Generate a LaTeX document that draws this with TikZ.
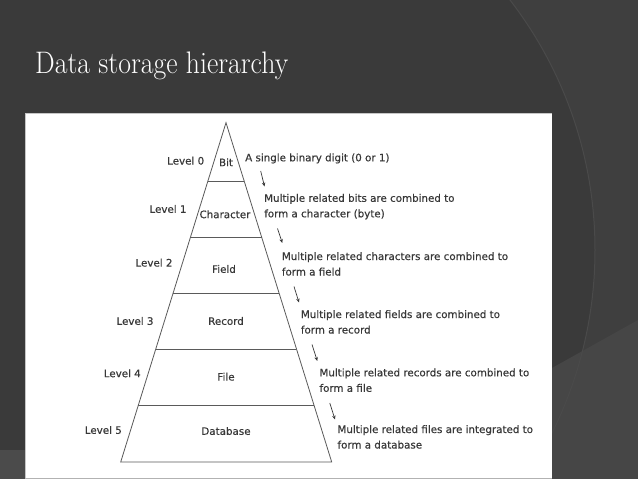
\documentclass[tikz,border=0pt]{standalone}
\usepackage{fontspec}
\usepackage{graphicx}
\newfontfamily\dv[FakeBold=0.4]{DejaVu Sans}
\usetikzlibrary{arrows.meta}
\definecolor{bgA}{HTML}{3A3A3A}
\definecolor{bgB}{HTML}{3F3F3F}
\definecolor{bgC}{HTML}{464646}
\definecolor{bgD}{HTML}{4B4B4B}
\definecolor{arcl}{HTML}{4A4A4A}
\definecolor{txt}{HTML}{383838}
\definecolor{pyr}{HTML}{5A5A5A}
\begin{document}
\begin{tikzpicture}[x=1pt,y=-1pt,
  lvl/.style={font=\dv\fontsize{10.3}{12}\selectfont, text=txt, inner sep=0pt},
  desc/.style={font=\dv\fontsize{10.3}{15.5}\selectfont, text=txt, align=left, inner sep=0pt, anchor=base west},
  arr/.style={draw=txt, line width=0.7pt, -{Stealth[length=4pt,width=3.4pt]}},
  pline/.style={draw=pyr, line width=0.8pt}]
\useasboundingbox (0,0) rectangle (638,479);
% background
\fill[bgA] (0,0) rectangle (638,479);
\fill[bgB, even odd rule] (0,0) rectangle (638,479) (185,250) circle (410);
\fill[bgC] (638,320) -- (638,479) -- (353,479) -- cycle;
\draw[arcl, line width=1pt] (185,250) circle (410);
\fill[bgD] (0,450) rectangle (25,479);
% title
\node[anchor=base west, inner sep=0pt, text=white, font=\fontsize{29}{29}\selectfont] (title) at (35,73.3) {\resizebox{253pt}{21.6pt}{Data storage hierarchy}};
% panel
\fill[white] (25,113) rectangle (552,478);
\draw[gray!45, line width=0.6pt] (25,478) -- (25,113) -- (552,113);
\draw[gray!60, line width=1pt] (25,478.5) -- (552,478.5);
% pyramid
\coordinate (apex) at (226,122.7);
\coordinate (bl) at (120.7,462);
\coordinate (br) at (331.7,462);
\draw[pline] (apex) -- (bl) -- (br) -- cycle;
\draw[pline] (207.7,181.7) -- (244.3,181.7);
\draw[pline] (190.4,237.5) -- (261.6,237.5);
\draw[pline] (173.2,293) -- (278.8,293);
\draw[pline] (155.8,349) -- (296.2,349);
\draw[pline] (138.2,405.7) -- (313.8,405.7);
% cell labels
\node[lvl] (bit) at (226,162.3) {Bit};
\node[lvl] (char) at (225,214.3) {Character};
\node[lvl] (field) at (224,269) {Field};
\node[lvl] (record) at (226,321) {Record};
\node[lvl] (file) at (226,376.7) {File};
\node[lvl] (db) at (226,431) {Database};
% level labels
\node[lvl] (l0) at (185.7,160.7) {Level 0};
\node[lvl] (l1) at (168,209) {Level 1};
\node[lvl] (l2) at (154,262.7) {Level 2};
\node[lvl] (l3) at (135,321) {Level 3};
\node[lvl] (l4) at (122.3,373.3) {Level 4};
\node[lvl] (l5) at (103.3,430) {Level 5};
% descriptions (base = baseline of last line)
\node[desc] (d0) at (245,161.3) {A single binary digit (0 or 1)};
\node[desc] (d1) at (264,217.3) {Multiple related bits are combined to\\form a character (byte)};
\node[desc] (d2) at (281.7,275.5) {Multiple related characters are combined to\\form a field};
\node[desc] (d3) at (300.7,333.5) {Multiple related fields are combined to\\form a record};
\node[desc] (d4) at (319.3,391.8) {Multiple related records are combined to\\form a file};
\node[desc] (d5) at (337.3,448.5) {Multiple related files are integrated to\\form a database};
% arrows
\coordinate (a1s) at (260.7,171);  \coordinate (a1e) at (264.5,186.5);
\coordinate (a2s) at (277.5,228.5); \coordinate (a2e) at (282.3,243);
\coordinate (a3s) at (294,286.5);  \coordinate (a3e) at (299,302.5);
\coordinate (a4s) at (312,344.5);  \coordinate (a4e) at (317.3,361);
\coordinate (a5s) at (329.8,403);  \coordinate (a5e) at (335,419.5);
\draw[arr] (a1s) -- (a1e);
\draw[arr] (a2s) -- (a2e);
\draw[arr] (a3s) -- (a3e);
\draw[arr] (a4s) -- (a4e);
\draw[arr] (a5s) -- (a5e);
\end{tikzpicture}
\end{document}
